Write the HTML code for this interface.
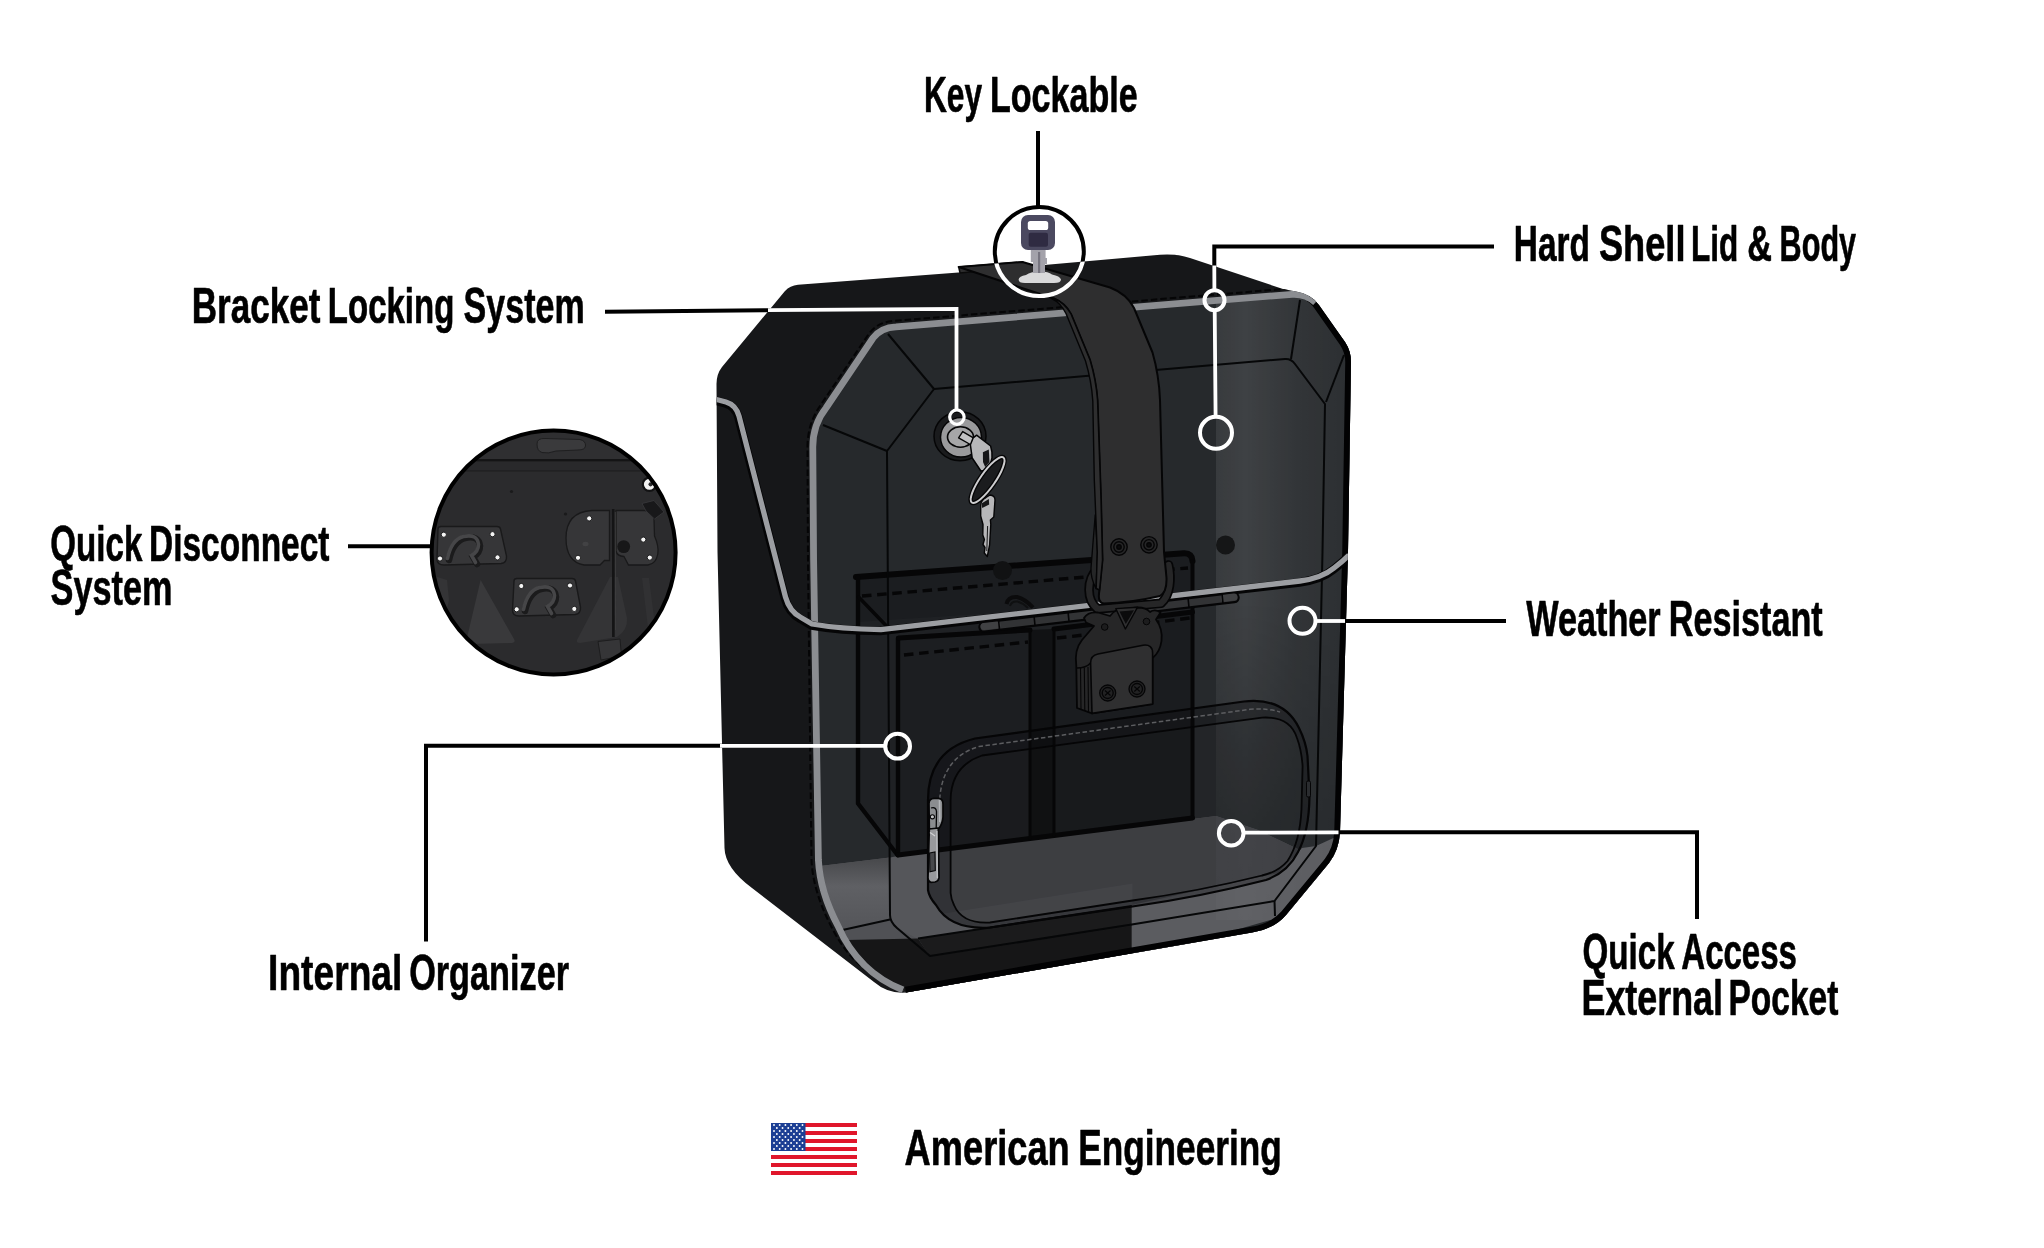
<!DOCTYPE html>
<html><head><meta charset="utf-8"><title>Features</title>
<style>
html,body{margin:0;padding:0;background:#fff;}
body{width:2044px;height:1248px;overflow:hidden;font-family:"Liberation Sans",sans-serif;}
svg{display:block;will-change:transform}
.lbl text{font-family:"Liberation Sans",sans-serif;font-weight:700;font-size:49.8px;fill:#000;stroke:#000;stroke-width:0.55px;vector-effect:non-scaling-stroke;stroke-linejoin:round}
</style></head><body>
<svg width="2044" height="1248" viewBox="0 0 2044 1248">
<defs>
 <clipPath id="cFront"><path d="M903,990 Q858,972 838,926 Q820,892 818.4,860 L813.6,560 L812.8,448 Q812.5,425 826,408 L873,338 Q881,327.5 896,326.8 L1292,294.3 Q1306,293.5 1315.5,302.5 L1345,342 Q1351,351 1351,362 L1348,552 L1340,832 Q1339,850 1329,863 L1286,915 Q1274,929 1252,932.5 L906,992.5 Z"/></clipPath>
 <clipPath id="cPouch"><path d="M928,890 L928,800 Q928,750 975,738.5 L1244,701.5 Q1284,697 1299,728 Q1306,742 1307.5,756 L1309.5,796 Q1309,832 1298,852 Q1288,872 1266,880 Q1200,897 1132.5,906.5 L990,927.5 Q950,930 936,905 Q929,897 928,890 Z"/></clipPath>
 <clipPath id="cSil"><path d="M716.5,384 Q716.5,374 722,367 L785,291 Q790,285.5 798,284.7 L958.5,272.5 L1160,254.8 Q1176,253.5 1190,258 L1283,289 L1296,291.5 Q1311,294 1319,305 L1345,342 Q1351,351 1351,362 L1348,552 L1340,832 Q1339,850 1329,863 L1286,915 Q1274,929 1252,932.5 L906,992.5 Q888,994 874,982 L752,888 Q725,868 724.5,848 L717.5,552 Z"/></clipPath>
 <clipPath id="cSil2"><path d="M716.5,384 Q716.5,374 722,367 L785,291 Q790,285.5 798,284.7 L958.5,272.5 L1160,254.8 Q1176,253.5 1190,258 L1283,289 L1296,291.5 Q1311,294 1319,305 L1345,342 Q1351,351 1351,362 L1348,552 L1340,832 Q1339,850 1329,863 L1286,915 Q1274,929 1252,932.5 L906,992.5 Q888,994 874,982 L752,888 Q725,868 724.5,848 L717.5,552 Z M958,266.5 L1022.5,261.5 L1060,275 L960,275 Z"/></clipPath>
 <clipPath id="cDet"><circle cx="553.6" cy="552.5" r="122"/></clipPath>
 <linearGradient id="gHi" x1="1216" y1="0" x2="1350" y2="0" gradientUnits="userSpaceOnUse">
  <stop offset="0" stop-color="#fff" stop-opacity="0.085"/>
  <stop offset="0.22" stop-color="#fff" stop-opacity="0.115"/>
  <stop offset="0.6" stop-color="#fff" stop-opacity="0.06"/>
  <stop offset="1" stop-color="#fff" stop-opacity="0.03"/>
 </linearGradient>
 <linearGradient id="gHiV" x1="0" y1="280" x2="0" y2="920" gradientUnits="userSpaceOnUse"><stop offset="0" stop-color="#fff"/><stop offset="0.5" stop-color="#fff"/><stop offset="0.85" stop-color="#555"/><stop offset="1" stop-color="#444"/></linearGradient>
 <mask id="mHi" maskUnits="userSpaceOnUse" x="1200" y="270" width="170" height="660"><rect x="1200" y="270" width="170" height="660" fill="url(#gHiV)"/></mask>
 <linearGradient id="gFloorL" x1="0" y1="860" x2="0" y2="935" gradientUnits="userSpaceOnUse">
  <stop offset="0" stop-color="#494a4d"/><stop offset="0.35" stop-color="#5f6064"/><stop offset="1" stop-color="#535458"/>
 </linearGradient>
</defs>
<rect width="2044" height="1248" fill="#fff"/>

<!-- ================= BAG ================= -->
<g id="bag">
 <path d="M716.5,384 Q716.5,374 722,367 L785,291 Q790,285.5 798,284.7 L958.5,272.5 L1160,254.8 Q1176,253.5 1190,258 L1283,289 L1296,291.5 Q1311,294 1319,305 L1345,342 Q1351,351 1351,362 L1348,552 L1340,832 Q1339,850 1329,863 L1286,915 Q1274,929 1252,932.5 L906,992.5 Q888,994 874,982 L752,888 Q725,868 724.5,848 L717.5,552 Z" fill="#161719"/>
 <!-- strap top nub -->
 <path d="M958.7,267 L1022.5,262 L1030,266 L960,273 Z" fill="#2d2d2e" stroke="#0a0a0a" stroke-width="1.5"/>
 <!-- front face -->
 <path d="M903,990 Q858,972 838,926 Q820,892 818.4,860 L813.6,560 L812.8,448 Q812.5,425 826,408 L873,338 Q881,327.5 896,326.8 L1292,294.3 Q1306,293.5 1315.5,302.5 L1345,342 Q1351,351 1351,362 L1348,552 L1340,832 Q1339,850 1329,863 L1286,915 Q1274,929 1252,932.5 L906,992.5 Z" fill="#26292c"/>
 <g clip-path="url(#cFront)">
  <!-- organizer back box -->
  <path d="M856,577 L1184,553.3 Q1192,553 1192.5,561 L1192.5,818 L898,855 L856,803.5 Z" fill="#1f2124"/>
  <path d="M856,577 L1184,553.3 Q1192,553 1192.5,561 L1192.5,600 L856,622 Z" fill="#1b1d20"/>
  <!-- pockets -->
  <path d="M898,638 L1030,630 L1030,838.5 L898,855 Z" fill="#1c1e21"/>
  <path d="M1054,629 L1192.5,612 L1192.5,818 L1054,835.5 Z" fill="#1a1c1f"/>
  <path d="M1030,630 L1054,629 L1054,835.5 L1030,838.5 Z" fill="#111214"/>
  <!-- floor -->
  <path d="M820,866 L890,857.5 L898,856 L1192.5,819 L1216,816 L1258,830 L1300,850 L1340,900 L900,1000 L820,940 Z" fill="#55565a"/>
  <g clip-path="url(#cPouch)"><path d="M820,866 L890,857.5 L898,856 L1192.5,819 L1216,816 L1258,830 L1300,850 L1340,900 L900,1000 L820,940 Z" fill="#434448"/>
  <path d="M897,921 L1132.5,883.5 L1132.5,910 L960,935 Z" fill="#4a4b4f"/></g>
  <path d="M820,866 L890,857.5 L890,919.5 L838,931 Z" fill="url(#gFloorL)"/>
  <path d="M838,931 L890,919.5 L897,928 L918,939 L848,941 Z" fill="#505155"/>
  <!-- dark bottom band -->
  <path d="M846,940 L918,938.5 L930,956 L1131.8,924.6 L1131.8,955 L900,1000 Z" fill="#161617"/>
  <path d="M918,938.5 L1131.8,906 L1131.8,926 L930,957 Z" fill="#1b1b1c"/>
  <!-- light band bottom right -->
  <path d="M1131.8,905 L1278,873 L1302,848 L1316,846 L1340,835 L1340,900 L1131.8,960 Z" fill="#5b5c60"/>
  <!-- highlight -->
  <rect x="1216" y="280" width="140" height="640" fill="url(#gHi)" mask="url(#mHi)"/>
 </g>

 <!-- organizer line work -->
 <g fill="none" stroke="#060607" stroke-linejoin="round" stroke-linecap="round" clip-path="url(#cFront)">
  <path d="M856,577 L1184,553.3 Q1192,553 1192.5,561" stroke-width="6"/>
  <path d="M858,577 L858,803.5 L897.5,855" stroke-width="4.4"/>
  <path d="M1192.5,561 L1192.5,818" stroke-width="4"/>
  <path d="M858.6,597 L885.5,625" stroke-width="3.5"/>
  <path d="M898,638 L898,855" stroke-width="4.4"/>
  <path d="M898,855 L1030,838.5 L1054,835.5 L1192.5,818" stroke-width="5"/>
  <path d="M899,638 L1030,630" stroke-width="5"/>
  <path d="M1054,629 L1192.5,612" stroke-width="5"/>
  <path d="M1030,630 L1030,838.5 M1054,629 L1054,835.5" stroke-width="3"/>
  <path d="M862,596 L1092,576.5 M1150,571 L1188,568" stroke-width="3.4" stroke-dasharray="9.5 5.7" stroke-linecap="butt"/>
  <path d="M904,655 L1028,642" stroke-width="3.4" stroke-dasharray="9.5 5.7" stroke-linecap="butt"/>
  <path d="M1057,638 L1084,635 M1150,623 L1190,618" stroke-width="3.4" stroke-dasharray="9.5 5.7" stroke-linecap="butt"/>
 </g>
 <!-- holes -->
 <circle cx="1002.5" cy="570.5" r="9.5" fill="#111213"/>
 <circle cx="1225.5" cy="545" r="9.5" fill="#151617"/>
 <path d="M1006.5,604 Q1008,596.5 1017,597 Q1025,599 1033,607.5" fill="none" stroke="#0b0b0c" stroke-width="4"/>
 <path d="M1010,606 Q1011.5,601 1017.5,601.5 Q1023,603 1028,608" fill="none" stroke="#0f1011" stroke-width="2"/>

 <!-- inner front panel lines -->
 <g fill="none" stroke="#060708" stroke-width="2" stroke-linejoin="round" clip-path="url(#cFront)">
  <path d="M888,334 L934,389 L1285,359 Q1291,358.5 1295,364 L1325,404 L1322.5,552 L1316,846 L1274.5,901 L1131.8,924.6 L930,956 L897,928 Q890,922 890,915 L887,451 L934,389"/>
  <path d="M823,425 L887,451"/>
  <path d="M1300,300 L1291,359"/>
  <path d="M1344,355 L1326,402"/>
  <path d="M1274.5,901 L1275,916"/>
  <path d="M838,931 L890,919.5"/>
  <path d="M918,938.5 L1131.8,906"/>
 </g>

 <!-- zip pouch -->
 <g clip-path="url(#cFront)">
  <path d="M928,890 L928,800 Q928,750 975,738.5 L1244,701.5 Q1284,697 1299,728 Q1306,742 1307.5,756 L1309.5,796 Q1309,832 1298,852 Q1288,872 1266,880 Q1200,897 1132.5,906.5 L990,927.5 Q950,930 936,905 Q929,897 928,890 Z M950.6,893 L950.6,800 Q951,766 982,755.5 L1262,717.6 Q1290,716 1297,738 Q1301.5,750 1302.6,766 L1301.5,809 Q1300,842 1287.5,861 Q1278,872 1262,875.5 Q1200,891 1132.5,900.5 L990,922.5 Q962,924 954,905 Q951,899 950.6,893 Z" fill-rule="evenodd" fill="#0a0b0c" fill-opacity="0.30"/>
  <path d="M950.6,893 L950.6,800 Q951,766 982,755.5 L1262,717.6 Q1290,716 1297,738 Q1301.5,750 1302.6,766 L1301.5,809 Q1300,842 1287.5,861 Q1278,872 1262,875.5 Q1200,891 1132.5,900.5 L990,922.5 Q962,924 954,905 Q951,899 950.6,893 Z" fill="#0a0b0c" fill-opacity="0.10"/>
  <path d="M928,890 L928,800 Q928,750 975,738.5 L1244,701.5 Q1284,697 1299,728 Q1306,742 1307.5,756 L1309.5,796 Q1309,832 1298,852 Q1288,872 1266,880 Q1200,897 1132.5,906.5 L990,927.5 Q950,930 936,905 Q929,897 928,890 Z" fill="none" stroke="#050506" stroke-width="2.2"/>
  <path d="M950.6,893 L950.6,800 Q951,766 982,755.5 L1262,717.6 Q1290,716 1297,738 Q1301.5,750 1302.6,766 L1301.5,809 Q1300,842 1287.5,861 Q1278,872 1262,875.5 Q1200,891 1132.5,900.5 L990,922.5 Q962,924 954,905 Q951,899 950.6,893 Z" fill="none" stroke="#050506" stroke-width="1.8"/>
  <path d="M939.5,806 Q939.5,758 979,746.5 L1250,709.3 Q1268,708 1280,712" fill="none" stroke="#5c5d60" stroke-width="1.5" stroke-dasharray="4.5 2.5"/>
  <!-- zipper pull -->
  <path d="M929,803.5 Q929,798.6 934,798.4 L939,798.4 Q943,799 943,804 L943,817 Q942.5,824 938.5,829 L929.3,828.5 Z" fill="#8b8d90" stroke="#060607" stroke-width="1.7" stroke-linejoin="round"/>
  <path d="M939.5,800 L939.8,822" stroke="#b4b6b9" stroke-width="1.6" fill="none"/>
  <path d="M929.3,829 L938.3,828 L939,877.5 Q938.8,881 935,882 L930.8,882.3 Q928,881.5 928,878 Z" fill="#98999c" stroke="#060607" stroke-width="1.7" stroke-linejoin="round"/>
  <path d="M936.8,831 L937.3,878" stroke="#b9bbbe" stroke-width="1.5" fill="none"/>
  <path d="M929.6,853 L935,852 L935.3,870.5 L929.9,871.8 Z" fill="#47484b" stroke="#060607" stroke-width="1.1"/>
  <path d="M931,808 Q936,806.5 936.5,811.5 L936.2,829" fill="none" stroke="#060607" stroke-width="1.3"/>
  <circle cx="932.4" cy="816.8" r="2.1" fill="#c4c5c7" stroke="#060607" stroke-width="1.1"/>
  <path d="M930,832.5 L935,836" stroke="#d0d1d3" stroke-width="1.3" fill="none"/>
  <rect x="1306.5" y="781" width="4" height="16" rx="1.5" fill="#2a2c2f" stroke="#050506" stroke-width="1"/>
 </g>

 <!-- border -->
 <g clip-path="url(#cSil)"><path d="M1309,296 Q1314,298 1319,305 L1345,342 Q1351,351 1351,362 L1348,552 L1340,832 Q1339,850 1329,863 L1286,915 Q1274,929 1252,932.5 L906,992.5" fill="none" stroke="#020203" stroke-width="11.5" stroke-linejoin="round"/></g>
 <!-- stitch dashed outside the front stripe -->
 <path clip-path="url(#cSil)" d="M893,986 Q852,968 832,928 Q813,892 811.5,860 L808,560 L807.5,447 Q807.5,424 820,406 L868,335 Q877,322 893,321 L1296,288" fill="none" stroke="#050506" stroke-width="2" stroke-dasharray="6.5 3"/>
 <!-- gray stripe -->
 <g clip-path="url(#cSil)"><path d="M903,990 Q858,972 838,926 Q820,892 818.4,860 L813.6,560 L812.8,448 Q812.5,425 826,408 L873,338 Q881,327.5 896,326.8 L1292,294.3 Q1306,293.5 1315.5,302.5" fill="none" stroke="#8b8d91" stroke-width="6.8" stroke-linecap="butt"/></g>

 <!-- lid line -->
 <g clip-path="url(#cSil)"><path d="M716.5,399.5 L726,402 Q736,405 739,416 L785.5,597 Q789.5,611.5 801,617.5 L812,624 Q840,629 881,629.6 L960,620.4 L1300,581 Q1322,578 1334,568 Q1343,561 1349,555" fill="none" stroke="#050506" stroke-width="8.6" transform="translate(-0.5,1.4)"/>
 <path d="M716.5,399.5 L726,402 Q736,405 739,416 L785.5,597 Q789.5,611.5 801,617.5 L812,624 Q840,629 881,629.6 L960,620.4 L1300,581 Q1322,578 1334,568 Q1343,561 1349,555" fill="none" stroke="#9c9ea2" stroke-width="5.3"/></g>

 <!-- hinge rod -->
 <g>
  <path d="M984,627.1 L1234,597.6" stroke="#050506" stroke-width="11.4" stroke-linecap="round" fill="none"/>
  <path d="M984,627.1 L1234,597.6" stroke="#323335" stroke-width="7" stroke-linecap="round" fill="none"/>
  <path d="M984,626.4 L997,624.9 M1224,598.2 L1234,597" stroke="#404143" stroke-width="7" stroke-linecap="round" fill="none"/>
  <path d="M998.5,619.5 L999.5,629.5 M1034,615.5 L1035,625.5 M1068,611.5 L1069,621.5 M1188,597.5 L1189,607.5 M1222,593.5 L1223,603.5" stroke="#050506" stroke-width="1.6"/>
 </g>
 <!-- buckle lower -->
 <g stroke="#050506" stroke-linejoin="round">
  <path d="M1097.5,569 C1086,580 1086.5,600 1097.5,609 L1161,603.3 C1170.5,595 1171.5,578 1168.5,565" fill="none" stroke="#050506" stroke-width="9.6" stroke-linecap="round"/>
  <path d="M1097.5,569 C1086,580 1086.5,600 1097.5,609 L1161,603.3 C1170.5,595 1171.5,578 1168.5,565" fill="none" stroke="#262627" stroke-width="6.2" stroke-linecap="round"/>
  <path d="M1084,618 Q1088,611.5 1098,612.5 L1110,616 Q1114,611 1118,609.5 L1138,607.5 Q1146,607.5 1150,612 Q1155,608.5 1160.5,612.5 L1156,619.5 Q1163,629 1161.5,641 Q1160,652 1152.6,658 L1152.6,704 L1092,713.4 L1077,708 L1076.3,666 Q1074,650 1082,640 L1094,626 L1086,622.5 Z" fill="#262627" stroke-width="1.8"/>
  <path d="M1090.6,663 Q1090.6,655.5 1098,654 L1143,645.2 Q1152.6,644 1152.6,653 L1152.6,704 L1092,713.4 Z" fill="#2f2f30" stroke-width="1.6"/>
  <path d="M1080.5,668 L1081,709.5 M1084.3,667.5 L1084.8,711 M1088,667 L1088.5,712.5" stroke-width="1.1" fill="none"/>
  <path d="M1090.6,663 Q1086,668 1077,668" stroke-width="1.4" fill="none"/>
  <path d="M1115.8,608.6 L1137.6,607.2 L1125.4,629 Z" fill="#2f2f30" stroke-width="1.4"/>
  <path d="M1119.5,611.5 L1134,610.3 L1125.8,624 Z" fill="#0b0b0c" stroke="none"/>
  <circle cx="1104.7" cy="627" r="3.3" fill="#1c1c1d" stroke-width="1"/>
  <circle cx="1146.5" cy="621.5" r="3.3" fill="#1c1c1d" stroke-width="1"/>
  <g fill="#222223" stroke-width="1.3">
   <circle cx="1107.7" cy="693" r="8"/><circle cx="1137" cy="689" r="8"/>
   <circle cx="1107.7" cy="693" r="5.5"/><circle cx="1137" cy="689" r="5.5"/>
  </g>
  <path d="M1105,690.5 L1110.5,695.5 M1110.5,690.5 L1105,695.5 M1134.3,686.5 L1139.8,691.5 M1139.8,686.5 L1134.3,691.5" stroke-width="1.2" fill="none"/>
 </g>
 <!-- strap -->
 <path d="M958.7,267 L1022.5,262 L1110,287.5 Q1127,294 1134,308 L1152.5,352.5 Q1159,375 1160,400 L1164,552 L1166.5,578 Q1167,592 1160,596 Q1130,603 1104,603.5 Q1097,603 1099.5,590 L1102.5,560 L1101,500 L1097.5,400 Q1096,380 1090,360 L1071,314 Q1065,303 1054,298.5 Z" fill="#2e2e2f" stroke="#050506" stroke-width="2" stroke-linejoin="round"/>
 <path d="M1095.2,515 L1091,568 Q1090.5,578 1096,588.5 L1097.4,552 Z" fill="#252627" stroke="#050506" stroke-width="1.3" stroke-linejoin="round"/>
 <path d="M1052,298.8 Q1060.5,302.5 1066,313.5 L1085.5,361 Q1091.5,381 1092.8,401 L1094.3,480 L1097.3,552 L1096.2,588.5 L1099.5,590 L1102.5,560 L1101,500 L1097.5,400 Q1096,380 1090,360 L1071,314 Q1065,303 1054,298.5 Z" fill="#2e2e2f" stroke="#050506" stroke-width="1.4" stroke-linejoin="round"/>
 <g fill="#262627" stroke="#050506" stroke-width="1.4">
  <circle cx="1119" cy="547" r="8.2"/><circle cx="1149" cy="544.8" r="8.2"/>
  <circle cx="1119" cy="547" r="5.2"/><circle cx="1149" cy="544.8" r="5.2"/>
  <circle cx="1119" cy="547" r="2.2" fill="#0b0b0c"/><circle cx="1149" cy="544.8" r="2.2" fill="#0b0b0c"/>
 </g>

 <!-- lock -->
 <g stroke="#050506">
  <ellipse cx="960" cy="436.2" rx="26" ry="24.5" fill="#1a1b1d" stroke-width="1.5"/>
  <ellipse cx="961" cy="437.2" rx="20.5" ry="19.8" fill="#9a9a9c" stroke-width="1.5"/>
  <ellipse cx="960.5" cy="437" rx="13" ry="10.2" fill="#a6a6a8" stroke-width="1.6"/>
  <!-- key 1 -->
  <path d="M958.6,437.8 L962.7,431.6 L973.8,438.2 L971.2,445 Z" fill="#c2c2c4" stroke-width="1.4" stroke-linejoin="round"/>
  <path d="M973.2,437.8 L976.6,435.2 L990.6,446 Q992.6,452 992,458 L988.8,470 L980.9,471 L972.2,458 L970.4,444.8 Z" fill="#b7b7b9" stroke-width="1.5" stroke-linejoin="round"/>
  <path d="M982.9,452.2 L988.8,449.4 L989.5,462 L985.2,467 L983,462 Z" fill="#151517" stroke="none"/>
  <!-- ring -->
  <ellipse cx="987.6" cy="480" rx="27.5" ry="7.4" transform="rotate(-55 987.6 480)" fill="#1b1c1e" stroke="#050506" stroke-width="4.6"/>
  <ellipse cx="987.6" cy="480" rx="27.5" ry="7.4" transform="rotate(-55 987.6 480)" fill="none" stroke="#cdcdcf" stroke-width="2"/>
  <!-- key 2 -->
  <path d="M980.7,505 Q981,500 986,497.5 L990,495 Q995,495.5 995,500 L993.8,517 L990.4,520 L990.8,524.5 L989.6,545 L987.3,556.5 L984.3,553 L985,547.5 L983,544.5 L984.4,539.5 L982.8,535 L983,524.5 L980.7,516 Z" fill="#b6b6b8" stroke-width="1.4" stroke-linejoin="round"/>
  <path d="M981.5,503.5 L988.8,499 L989.2,504.5 L982.2,508 Z" fill="#151517" stroke="none"/>
  <path d="M987.6,526 L986.8,551" stroke-width="0.9" fill="none"/>
 </g>
</g>

<!-- ================= KEY ICON CIRCLE ================= -->
<g>
 <circle cx="1039.3" cy="251.5" r="44.5" fill="none" stroke="#000" stroke-width="4"/>
 <g clip-path="url(#cSil2)"><circle cx="1039.3" cy="251.5" r="44.5" fill="none" stroke="#fff" stroke-width="4.2"/></g>
 <path d="M1018.6,279.5 Q1019,276 1026,275 Q1031,271.5 1038,271.5 Q1048,271 1052,274.5 Q1060,276 1061,279.5 Q1061,283 1054,283 L1025,283 Q1018.6,283 1018.6,279.5 Z" fill="#d9d9da"/>
 <path d="M1030.8,249 L1045.6,249 L1045.6,258 L1047,258 L1047,264 L1045,264 L1045,273 L1033,273 L1033,262 L1030.8,262 Z" fill="#a3a2aa"/>
 <rect x="1038" y="252" width="2.2" height="21" fill="#76747f"/>
 <rect x="1021" y="215" width="34" height="35" rx="7" fill="#4b4960"/>
 <rect x="1027.8" y="221" width="20.4" height="9" rx="2.6" fill="#fff"/>
 <rect x="1028.7" y="232.8" width="19.3" height="14" rx="2" fill="#2f2b42"/>
</g>

<!-- ================= DETAIL CIRCLE ================= -->
<g>
 <circle cx="553.6" cy="552.5" r="122" fill="#2b2b2d"/>
 <g clip-path="url(#cDet)">
  <rect x="420" y="420" width="270" height="40" fill="#2f2f31"/>
  <rect x="420" y="459" width="270" height="2.6" fill="#141415"/>
  <rect x="420" y="461.6" width="270" height="9" fill="#29292b"/>
  <rect x="420" y="470.2" width="270" height="1.4" fill="#202022"/>
  <path d="M537,444 Q537,438 545,438.5 L580,439.5 Q586,441 585.5,446 Q585,450 578,450 L556,451 Q548,454 542,452.5 Q537,451 537,444 Z" fill="#3a3a3c" stroke="#1f1f20" stroke-width="1"/>
  <!-- triangles -->
  <path d="M480.6,580 L466.5,640 Q466,644 470,644 L512,643 Q516,642.5 514,639 Z" fill="#39393b"/>
  <path d="M431,575 L447,580 L449,600 L440,640 L430,640 Z" fill="#343436"/>
  <!-- plate 1 -->
  <path d="M438,529 Q438,526.5 441,526.5 L497,526.5 Q500,526.5 500.5,529 L506.5,556 Q507,563 501,563.5 L444,565 Q437,565 437,559 Z" fill="#363638" stroke="#19191a" stroke-width="1.4"/>
  <path d="M449,560 Q453,541 465,538 Q479,535 480,546 Q480,553 473,557 L477,564" fill="none" stroke="#1b1b1c" stroke-width="6.5" stroke-linecap="round"/>
  <path d="M447.5,558.5 Q451.5,539.5 463.5,536.5 Q477.5,533.5 478.5,544.5 Q478.5,551.5 471.5,555.5 L475.5,562.5" fill="none" stroke="#464648" stroke-width="3.6" stroke-linecap="round"/>
  <!-- plate 2 -->
  <path d="M514,581 Q514,578.5 517,578.5 L572,578.5 Q575,578.5 575.5,581 L580.5,607 Q581,614 575,614.5 L519,616 Q512.5,616 512.5,610 Z" fill="#363638" stroke="#19191a" stroke-width="1.4"/>
  <path d="M525,611 Q529,592 541,589 Q555,586 556,597 Q556,604 549,608 L553,615" fill="none" stroke="#1b1b1c" stroke-width="6.5" stroke-linecap="round"/>
  <path d="M523.5,609.5 Q527.5,590.5 539.5,587.5 Q553.5,584.5 554.5,595.5 Q554.5,602.5 547.5,606.5 L551.5,613.5" fill="none" stroke="#464648" stroke-width="3.6" stroke-linecap="round"/>
  <!-- plate 3 -->
  <path d="M609.5,510.5 L592,510.5 Q566,512 566,538 Q566,562 584,565 L600,565 L604.5,560.5 L609.5,560.5 Z" fill="#363638" stroke="#19191a" stroke-width="1.3"/>
  <ellipse cx="585.5" cy="544" rx="3" ry="2.2" fill="#424244"/>
  <path d="M616,510.5 L645,510.5 Q653,511 654,519 L654.5,536 Q659,546 657.8,554 Q656,564 648,565 L628.5,565 L624,556.5 Q617,556 616,551 Z" fill="#363638" stroke="#19191a" stroke-width="1.3"/>
  <circle cx="623.7" cy="546.6" r="6.4" fill="#171718"/>
  <path d="M610,577 L577,640 Q576,643 580,643 L617,637 Q628,630 627,618 L618,577 Z" fill="#343436"/>
  <path d="M642,578 L649,578 L655,625 L648,628 Z" fill="#313133"/>
  <path d="M613.2,509 L613.4,637" stroke="#141415" stroke-width="2.6"/>
  <path d="M615.3,512 L615.6,630" stroke="#3e3e40" stroke-width="0.9"/>
  <path d="M598,641.5 L620,639 L621.5,656 L601,660 Z" fill="#353537" stroke="#1d1d1e" stroke-width="1"/>
  <path d="M642,503.5 L654,500.5 L664,512 L654.5,519 L646,511 Z" fill="#18181a" stroke="#3a3a3c" stroke-width="0.8"/>
  <circle cx="649.4" cy="484.3" r="6.6" fill="#f2f2f2" stroke="#121213" stroke-width="2.2"/>
  <circle cx="650.6" cy="484.3" r="2.1" fill="#2b2b2d"/>
  <circle cx="511.5" cy="491.5" r="1.6" fill="#1a1a1b"/><circle cx="565.5" cy="514" r="1.6" fill="#1a1a1b"/>
  <g fill="#f4f4f4" stroke="#1c1c1d" stroke-width="1">
   <circle cx="443.8" cy="534.7" r="2.6"/><circle cx="492.5" cy="534.2" r="2.6"/><circle cx="440" cy="558.5" r="2.6"/><circle cx="497.5" cy="557.4" r="2.6"/>
   <circle cx="521.3" cy="586" r="2.6"/><circle cx="570" cy="585.5" r="2.6"/><circle cx="516.7" cy="609.3" r="2.6"/><circle cx="574.3" cy="608.9" r="2.6"/>
   <circle cx="589.2" cy="518.4" r="2.6"/><circle cx="643.3" cy="539.6" r="2.6"/><circle cx="578" cy="557.8" r="2.6"/><circle cx="649.8" cy="557.6" r="2.6"/>
  </g>
 </g>
 <circle cx="553.6" cy="552.5" r="122" fill="none" stroke="#000" stroke-width="4"/>
</g>

<!-- ================= CALLOUT LINES ================= -->
<g fill="none" stroke-width="4">
 <!-- key lockable -->
 <path d="M1038,131 L1038,207" stroke="#000"/>
 <!-- bracket locking -->
 <path d="M605,311.8 L770,310.2" stroke="#000"/>
 <path d="M768,310.2 L956.5,308.8 L956.5,410" stroke="#fff" stroke-width="3.8"/>
 <circle cx="956.9" cy="417.1" r="7.2" stroke="#fff" stroke-width="3.2"/>
 <!-- hard shell -->
 <path d="M1494,246.6 L1214.3,246.6 L1214.3,267" stroke="#000"/>
 <path d="M1214.3,265.5 L1214.4,290 M1214.7,310 L1215.6,417" stroke="#fff" stroke-width="3.8"/>
 <circle cx="1214.5" cy="300.2" r="10" stroke="#fff" stroke-width="4"/>
 <circle cx="1216" cy="432.8" r="16" stroke="#fff" stroke-width="4"/>
 <!-- weather resistant -->
 <path d="M1343,621 L1506,621" stroke="#000"/>
 <path d="M1315.5,621 L1345,621" stroke="#fff" stroke-width="3.8"/>
 <circle cx="1302.5" cy="620.8" r="13" stroke="#fff" stroke-width="4"/>
 <!-- quick access -->
 <path d="M1337,832.3 L1697,832.3 L1697,919" stroke="#000"/>
 <path d="M1243.5,832.6 L1338.5,832.4" stroke="#fff" stroke-width="3.8"/>
 <circle cx="1231.2" cy="833.2" r="12.3" stroke="#fff" stroke-width="4"/>
 <!-- internal organizer -->
 <path d="M722,745.8 L426,745.8 L426,941.5" stroke="#000"/>
 <path d="M720,745.8 L885.5,745.8" stroke="#fff" stroke-width="3.8"/>
 <circle cx="897.6" cy="746.2" r="12.4" stroke="#fff" stroke-width="4"/>
 <!-- quick disconnect -->
 <path d="M348,546.2 L431,546.2" stroke="#000"/>
</g>

<!-- ================= FLAG ================= -->
<g>
 <rect x="771" y="1123" width="86" height="52" fill="#fff"/>
 <g fill="#e0162b">
  <rect x="771" y="1123" width="86" height="4"/><rect x="771" y="1131" width="86" height="4"/><rect x="771" y="1139" width="86" height="4"/>
  <rect x="771" y="1147" width="86" height="4"/><rect x="771" y="1155" width="86" height="4"/><rect x="771" y="1163" width="86" height="4"/><rect x="771" y="1171" width="86" height="4"/>
 </g>
 <rect x="771" y="1123" width="34.5" height="28" fill="#1c3f94"/>
 <g fill="#fff"><circle cx="774.00" cy="1125.00" r="0.95"/><circle cx="779.70" cy="1125.00" r="0.95"/><circle cx="785.40" cy="1125.00" r="0.95"/><circle cx="791.10" cy="1125.00" r="0.95"/><circle cx="796.80" cy="1125.00" r="0.95"/><circle cx="802.50" cy="1125.00" r="0.95"/><circle cx="776.85" cy="1128.00" r="0.95"/><circle cx="782.55" cy="1128.00" r="0.95"/><circle cx="788.25" cy="1128.00" r="0.95"/><circle cx="793.95" cy="1128.00" r="0.95"/><circle cx="799.65" cy="1128.00" r="0.95"/><circle cx="774.00" cy="1131.00" r="0.95"/><circle cx="779.70" cy="1131.00" r="0.95"/><circle cx="785.40" cy="1131.00" r="0.95"/><circle cx="791.10" cy="1131.00" r="0.95"/><circle cx="796.80" cy="1131.00" r="0.95"/><circle cx="802.50" cy="1131.00" r="0.95"/><circle cx="776.85" cy="1134.00" r="0.95"/><circle cx="782.55" cy="1134.00" r="0.95"/><circle cx="788.25" cy="1134.00" r="0.95"/><circle cx="793.95" cy="1134.00" r="0.95"/><circle cx="799.65" cy="1134.00" r="0.95"/><circle cx="774.00" cy="1137.00" r="0.95"/><circle cx="779.70" cy="1137.00" r="0.95"/><circle cx="785.40" cy="1137.00" r="0.95"/><circle cx="791.10" cy="1137.00" r="0.95"/><circle cx="796.80" cy="1137.00" r="0.95"/><circle cx="802.50" cy="1137.00" r="0.95"/><circle cx="776.85" cy="1140.00" r="0.95"/><circle cx="782.55" cy="1140.00" r="0.95"/><circle cx="788.25" cy="1140.00" r="0.95"/><circle cx="793.95" cy="1140.00" r="0.95"/><circle cx="799.65" cy="1140.00" r="0.95"/><circle cx="774.00" cy="1143.00" r="0.95"/><circle cx="779.70" cy="1143.00" r="0.95"/><circle cx="785.40" cy="1143.00" r="0.95"/><circle cx="791.10" cy="1143.00" r="0.95"/><circle cx="796.80" cy="1143.00" r="0.95"/><circle cx="802.50" cy="1143.00" r="0.95"/><circle cx="776.85" cy="1146.00" r="0.95"/><circle cx="782.55" cy="1146.00" r="0.95"/><circle cx="788.25" cy="1146.00" r="0.95"/><circle cx="793.95" cy="1146.00" r="0.95"/><circle cx="799.65" cy="1146.00" r="0.95"/><circle cx="774.00" cy="1149.00" r="0.95"/><circle cx="779.70" cy="1149.00" r="0.95"/><circle cx="785.40" cy="1149.00" r="0.95"/><circle cx="791.10" cy="1149.00" r="0.95"/><circle cx="796.80" cy="1149.00" r="0.95"/><circle cx="802.50" cy="1149.00" r="0.95"/></g>
</g>

<!-- ================= LABELS ================= -->
<g class="lbl">
<text transform="translate(923.94,111.5) scale(0.6371,1)" x="0" y="0">Key</text>
<text transform="translate(989.98,111.5) scale(0.6847,1)" x="0" y="0">Lockable</text>
<text transform="translate(191.72,323.4) scale(0.7048,1)" x="0" y="0">Bracket</text>
<text transform="translate(327.85,323.4) scale(0.6628,1)" x="0" y="0">Locking</text>
<text transform="translate(463.58,323.4) scale(0.6838,1)" x="0" y="0">System</text>
<text transform="translate(1513.83,260.8) scale(0.6706,1)" x="0" y="0">Hard</text>
<text transform="translate(1598.91,260.8) scale(0.7276,1)" x="0" y="0">Shell</text>
<text transform="translate(1690.95,260.8) scale(0.6332,1)" x="0" y="0">Lid</text>
<text transform="translate(1747.16,260.8) scale(0.688,1)" x="0" y="0">&amp;</text>
<text transform="translate(1779.61,260.8) scale(0.6148,1)" x="0" y="0">Body</text>
<text transform="translate(1526.2,635.8) scale(0.6878,1)" x="0" y="0">Weather</text>
<text transform="translate(1668.78,635.8) scale(0.6866,1)" x="0" y="0">Resistant</text>
<text transform="translate(1582.47,969.2) scale(0.6669,1)" x="0" y="0">Quick</text>
<text transform="translate(1681.27,969.2) scale(0.6635,1)" x="0" y="0">Access</text>
<text transform="translate(1581.47,1014.8) scale(0.7205,1)" x="0" y="0">External</text>
<text transform="translate(1728.42,1014.8) scale(0.6733,1)" x="0" y="0">Pocket</text>
<text transform="translate(50.27,560.6) scale(0.6654,1)" x="0" y="0">Quick</text>
<text transform="translate(149.02,560.6) scale(0.6724,1)" x="0" y="0">Disconnect</text>
<text transform="translate(50.57,605.2) scale(0.6879,1)" x="0" y="0">System</text>
<text transform="translate(268.08,990) scale(0.7466,1)" x="0" y="0">Internal</text>
<text transform="translate(409.13,990) scale(0.6879,1)" x="0" y="0">Organizer</text>
<text transform="translate(904.59,1164.6) scale(0.7277,1)" x="0" y="0">American</text>
<text transform="translate(1078.21,1164.6) scale(0.7076,1)" x="0" y="0">Engineering</text>
</g>
</svg>
</body></html>
